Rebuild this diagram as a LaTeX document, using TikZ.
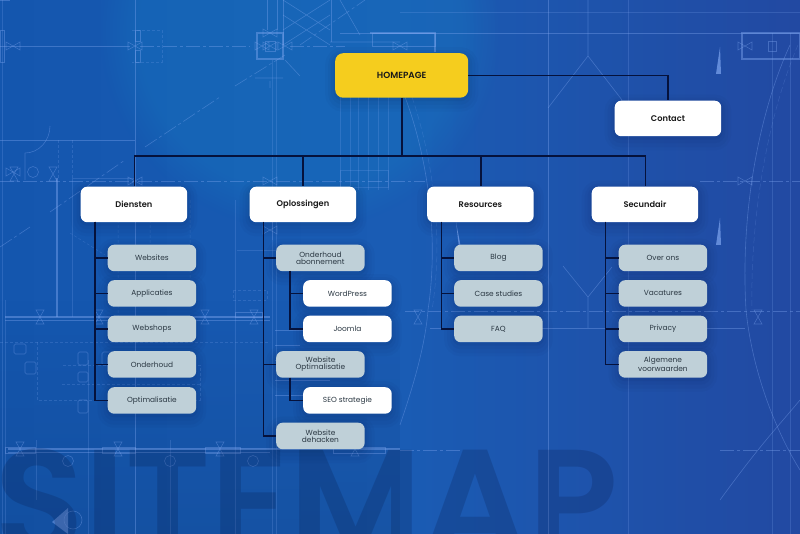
\documentclass[tikz,border=0pt]{standalone}
\usepackage{fontspec}
\setmainfont{Poppins}
\newfontfamily\semi{Poppins SemiBold}
\usetikzlibrary{fadings,shapes.geometric}
\definecolor{bpA}{HTML}{1456AE}
\definecolor{bpB}{HTML}{1A5CB4}
\definecolor{bpC}{HTML}{2249A2}
\definecolor{bpLine}{HTML}{7FA6F0}
\definecolor{navy}{HTML}{04133F}
\definecolor{wire}{HTML}{05123C}
\definecolor{gold}{HTML}{F5CD1E}
\definecolor{slate}{HTML}{BFD0D8}
\definecolor{ink}{HTML}{2A3742}
\tikzset{
  softshadow/.style={
    preaction={draw=navy,draw opacity=.03,line width=20pt,transform canvas={yshift=-4pt}},
    preaction={draw=navy,draw opacity=.035,line width=14pt,transform canvas={yshift=-4pt}},
    preaction={draw=navy,draw opacity=.04,line width=8pt,transform canvas={yshift=-3pt}},
    preaction={draw=navy,draw opacity=.06,line width=3pt,transform canvas={yshift=-2pt}}},
  box/.style={softshadow,rounded corners=6.5pt,inner sep=0pt,align=center,anchor=north west},
  topbox/.style={box,fill=white,text=black!90,minimum width=106.5pt,minimum height=35.5pt,font=\semi\fontsize{8.25}{10}\selectfont},
  homebox/.style={box,fill=gold,text=black!90,minimum width=133pt,minimum height=44.5pt,rounded corners=8pt,font=\semi\fontsize{8.9}{10}\selectfont},
  subbox/.style={box,fill=slate,text=ink,minimum width=88.5pt,minimum height=26.5pt,font=\fontsize{7.4}{7.3}\selectfont},
  whitebox/.style={subbox,fill=white},
  wired/.style={draw=wire,line width=1.7pt},
  bp/.style={draw=bpLine,draw opacity=.38,line width=.6pt},
  bpfaint/.style={draw=bpLine,draw opacity=.22,line width=.5pt},
  bpthick/.style={draw=bpLine,draw opacity=.45,line width=1.5pt},
  bpdash/.style={bp,dash pattern=on 14pt off 3pt on 3pt off 3pt},
  bpfine/.style={bpfaint,dash pattern=on 3pt off 2pt},
}
\newcommand{\hbow}[2]{\draw[bp] (#1-7,#2-4) -- (#1-7,#2+4) -- (#1,#2) -- cycle (#1+7,#2-4) -- (#1+7,#2+4) -- (#1,#2) -- cycle;}
\newcommand{\vbow}[2]{\draw[bp] (#1-4,#2-7) -- (#1+4,#2-7) -- (#1,#2) -- cycle (#1-4,#2+7) -- (#1+4,#2+7) -- (#1,#2) -- cycle;}
\begin{document}
\begin{tikzpicture}[x=1pt,y=-1pt]
\useasboundingbox (0,0) rectangle (800,534);
\begin{scope}
\clip (0,0) rectangle (800,534);
% background
\fill[left color=bpA,right color=bpC,middle color=bpB] (0,0) rectangle (800,534);
\fill[color=black!30!bpA,opacity=.25,path fading=north] (0,300) rectangle (400,534);
\fill[color=bpB!80!cyan,opacity=.32,path fading=circle with fuzzy edge 20 percent] (100,-170) rectangle (500,230);
% long lines
\draw[bp] (135.5,0) -- (135.5,534);
\draw[bpfaint] (272,60) -- (272,534) (276,60) -- (276,534);
\draw[bp] (267,0)--(267,30) (277,0)--(277,30);
\draw[bp] (548,0) -- (548,534);
\draw[bpfaint] (628,0) -- (628,534);
\draw[bpfaint] (2,0) -- (2,534) (5,300) -- (5,534);
\draw[bpfaint] (772,33) -- (772,534) (790,33) -- (790,534);
\draw[bpfaint] (88,360) -- (88,534) (36,440) -- (36,500) (170,440) -- (170,534) (235,200) -- (235,534);
\foreach \x in {340,350,358,368,378,388} \draw[bpfaint] (\x,97) -- (\x,190);
\draw[bp] (0,46) -- (130,46);
\draw[bpdash] (140,46) -- (250,46) (290,46) -- (345,46);
\draw[bp] (340,33) -- (800,33);
\draw[bpfaint] (400,12) -- (800,12);
\draw[bpdash] (0,181) -- (425,181);
\draw[bpdash] (700,181) -- (800,181);
\draw[bpdash] (0,247) -- (30,227) (50,212) -- (125,160) (145,147) -- (220,97) (235,86) -- (285,55) (300,45) -- (365,0);
\draw[bp] (0,140) -- (135,140);
\draw[bpfine] (58,140) -- (58,180) (72,140) -- (72,180);
\draw[bp] (25,153) -- (25,180) (25,153) arc (90:0:25 and 27);
\draw[bp] (33,172) circle (5.5);
\draw[bpthick] (57,178) -- (57,317);
\draw[bpfaint] (72,178) -- (135,178) (72,178) -- (72,317);
\draw[bpfine] (118,200) -- (118,316) (150,200) -- (150,250) (190,200) -- (190,300) (70,233) -- (105,255);
% horizontal mid bands
\draw[bpthick] (5,317) -- (270,317);
\draw[bp] (5,320) -- (270,320);
\draw[bpdash] (405,311) -- (800,311);
\draw[bp] (430,328) -- (745,328);
\draw[bpthick] (8,449) -- (400,449);
\draw[bp] (8,452) -- (270,452);
\draw[bp] (5,447) rectangle (35,453) (102,447) rectangle (135,453) (205,447) rectangle (240,453) (333,447) rectangle (385,453);
\draw[bpdash] (400,450) -- (460,450) (720,450) -- (800,450);
% rooms
\draw[bpfine] (0,342) -- (270,342);
\draw[bpfine] (37,342) -- (37,400) -- (200,400) -- (200,365) -- (62,365) (62,384) -- (200,384);
\draw[bp,rounded corners=1.5pt] (14,344) rectangle (26,354) (25,362) rectangle (36,374) (78,352) rectangle (88,365) (78,400) rectangle (88,413) (102,352) rectangle (112,365) (78,372) rectangle (88,382);
\draw[bpfine] (233,290) rectangle (267,300);
\draw[bp] (235,312) rectangle (262,317);
\draw[bp] (275,330) -- (330,330) (275,345) -- (300,345) (275,360) -- (320,360) (275,380) -- (330,380) (275,395) -- (310,395);
\draw[bpfaint] (237,250) -- (345,250) (340,170) rectangle (388,187) (272,210) -- (272,240);
% columns and squares
\draw[bpthick] (257,33) rectangle (283,59);
\draw[bp] (265,41) rectangle (275,51) (135,30) rectangle (140,41) (135,50) rectangle (140,62);
\draw[bpfine] (132,30) -- (162,30) -- (162,62) -- (132,62);
\draw[bp] (255,78) -- (283,78) (270,81) -- (270,88) (285,60) -- (300,76);
\draw[bpthick] (742,33) rectangle (800,59);
\draw[bp] (768,41) rectangle (776,51) (372,33) rectangle (435,46);
\draw[bpthick] (370,33) -- (435,33) -- (435,52);
\draw[bp] (0,30) rectangle (4,62) (0,0) -- (10,0);
\draw[bp] (283,0) -- (330,30) (283,15) -- (330,45) (330,0) -- (283,30) (330,15) -- (283,45);
\draw[bp] (283,0) -- (283,45) (331,0) -- (331,42);
\draw[bp] (330,42) -- (400,42) (340,0)--(360,35);
% triangles frame
\draw[bp] (548,108) -- (588,56) -- (622,100) (588,0) -- (588,56);
\draw[bp] (563,266) -- (588,297) -- (612,267) (588,297) -- (588,328);
\fill[bpLine,opacity=.7] (716,74) -- (720,47) -- (721,74) -- cycle (716,245) -- (720,218) -- (721,245) -- cycle (456,222) -- (459,248) -- (461,248) -- cycle;
% curves
\draw[bp] (405,97) .. controls (425,150) and (440,230) .. (428,310) .. controls (425,350) and (410,395) .. (400,425);
\draw[bpfaint,dash pattern=on 6pt off 3pt] (412,97) .. controls (430,150) and (445,230) .. (432,310);
\draw[bp] (790,45) .. controls (760,110) and (740,210) .. (746,310) .. controls (752,370) and (775,430) .. (800,470);
\draw[bpfaint,dash pattern=on 6pt off 3pt] (798,45) .. controls (770,110) and (750,210) .. (752,310);
\draw[bp] (800,400) .. controls (775,430) and (760,445) .. (720,500);
% symbols
\foreach \p/\q in {13/46,135/46,270/33,270/46,262/46,285/46,13/172,270/181,135/181} {\hbow{\p}{\q}}
\foreach \p/\q in {400/46,745/46,745/181,270/230} {\hbow{\p}{\q}}
\foreach \p/\q in {14/174,53/174,40/317,99/317,205/317,254/317,20/449,118/449,220/449,355/449,418/317,758/317} {\vbow{\p}{\q}}
\draw[bp] (68,461) circle (5.5) (170,461) circle (5.5) (253,461) circle (5.5);
\draw[bp] (73,520) circle (9);
\fill[bpLine,opacity=.5] (52,522) -- (68,508) -- (68,534) -- cycle;
% big lettering
\node[anchor=north west,inner sep=0pt,text=navy,opacity=.2] (bigword) at (-6,449) {\resizebox{624pt}{!}{\fontspec{Poppins SemiBold}\fontsize{150}{150}\selectfont SITEMAP}};
\end{scope}

% connector anchors
\coordinate (bus) at (402,156);
\coordinate (busL) at (134.5,156);
\coordinate (busO) at (303,156);
\coordinate (busR) at (481,156);
\coordinate (busS) at (645.5,156);
\coordinate (tD) at (95,222);
\coordinate (tO) at (263.5,222);
\coordinate (tR) at (441.5,222);
\coordinate (tS) at (605.5,222);
\coordinate (tO1) at (290,271);
\coordinate (tO4) at (290,377.5);

% boxes
\node[homebox] (home) at (335,53) {HOMEPAGE};
\node[topbox] (contact) at (614.5,100.5) {Contact};
\node[topbox] (diensten) at (80.5,186.5) {Diensten};
\node[topbox] (oplos) at (249.5,186.5) {Oplossingen};
\node[topbox] (resources) at (427,186.5) {Resources};
\node[topbox] (secundair) at (591.5,186.5) {Secundair};

\node[subbox] (d1) at (107.5,244.5) {Websites};
\node[subbox] (d2) at (107.5,280) {Applicaties};
\node[subbox] (d3) at (107.5,315.5) {Webshops};
\node[subbox] (d4) at (107.5,351) {Onderhoud};
\node[subbox] (d5) at (107.5,387) {Optimalisatie};

\node[subbox] (o1) at (276,244.5) {Onderhoud\\abonnement};
\node[whitebox] (o2) at (303,280) {WordPress};
\node[whitebox] (o3) at (303,315.5) {Joomla};
\node[subbox] (o4) at (276,351) {Website\\Optimalisatie};
\node[whitebox] (o5) at (303,387) {SEO strategie};
\node[subbox] (o6) at (276,422.5) {Website\\dehacken};

\node[subbox] (r1) at (454,244.5) {Blog};
\node[subbox] (r2) at (454,280) {Case studies};
\node[subbox] (r3) at (454,315.5) {FAQ};

\node[subbox] (s1) at (618.5,244.5) {Over ons};
\node[subbox] (s2) at (618.5,280) {Vacatures};
\node[subbox] (s3) at (618.5,315.5) {Privacy};
\node[subbox] (s4) at (618.5,351) {Algemene\\voorwaarden};

\draw[wired] (home.south -| bus) -- (bus);
\draw[wired,line cap=rect] (busL) -- (busS);
\draw[wired] (busL) -- (busL |- diensten.north);
\draw[wired] (busO) -- (busO |- oplos.north);
\draw[wired] (busR) -- (busR |- resources.north);
\draw[wired] (busS) -- (busS |- secundair.north);
\draw[wired] (home.east) -| (contact.north);
\foreach \n in {d1,d2,d3,d4,d5} \draw[wired] (tD) |- (\n.west);
\foreach \n in {o1,o4,o6} \draw[wired] (tO) |- (\n.west);
\foreach \n in {r1,r2,r3} \draw[wired] (tR) |- (\n.west);
\foreach \n in {s1,s2,s3,s4} \draw[wired] (tS) |- (\n.west);
\foreach \n in {o2,o3} \draw[wired] (tO1) |- (\n.west);
\draw[wired] (tO4) |- (o5.west);
\end{tikzpicture}
\end{document}
